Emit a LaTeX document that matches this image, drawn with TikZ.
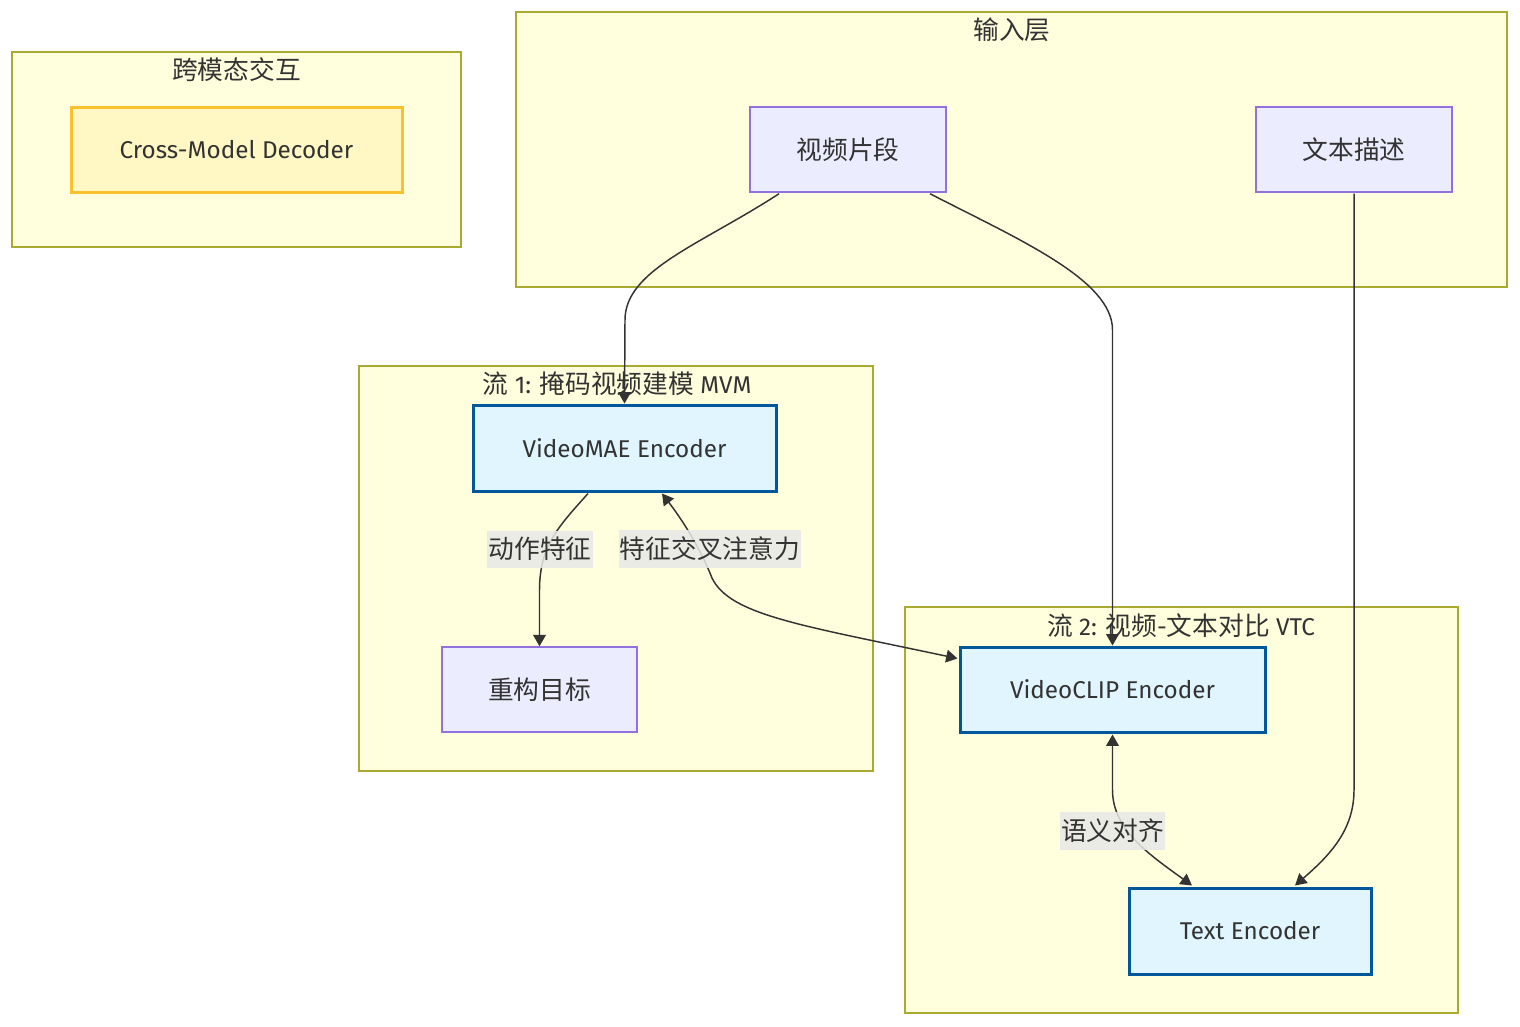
\documentclass[tikz,border=0pt]{standalone}
\usepackage{fontspec}
\setmainfont{Fira Sans}
\newfontfamily\cjk[Scale=1.06]{Noto Sans CJK SC}
\usetikzlibrary{arrows.meta,calc}
\definecolor{txt}{HTML}{333333}
\definecolor{clfill}{HTML}{FFFFDE}
\definecolor{cldraw}{HTML}{AAAA33}
\definecolor{dfill}{HTML}{ECECFF}
\definecolor{ddraw}{HTML}{9370DB}
\definecolor{efill}{HTML}{E1F5FE}
\definecolor{edraw}{HTML}{01579B}
\definecolor{yfill}{HTML}{FFF7C4}
\definecolor{ydraw}{HTML}{FBC02D}
\definecolor{lblbg}{HTML}{E8E8E8}
\tikzset{
  every node/.style={font=\fontsize{18.2}{22}\selectfont, text=txt},
  cluster/.style={draw=cldraw, fill=clfill, line width=1.1pt, inner sep=0pt},
  cltitle/.style={inner sep=0pt, anchor=center},
  plainbox/.style={draw=ddraw, fill=dfill, line width=1.1pt, minimum width=147pt, minimum height=63.75pt, inner sep=0pt},
  encbox/.style={draw=edraw, fill=efill, line width=2.25pt, minimum height=63.75pt, inner sep=0pt},
  decbox/.style={draw=ydraw, fill=yfill, line width=2.25pt, minimum height=63.75pt, inner sep=0pt},
  conn/.style={draw=txt, line width=1.1pt, -{Triangle[length=8.5pt,width=9.5pt]}},
  biconn/.style={draw=txt, line width=1.1pt, {Triangle[length=8.5pt,width=9.5pt]}-{Triangle[length=8.5pt,width=9.5pt]}},
  elabel/.style={fill=lblbg, fill opacity=0.85, text opacity=1, inner xsep=1pt, inner ysep=5pt}
}
\begin{document}
\begin{tikzpicture}[x=0.75pt,y=-0.75pt]
\useasboundingbox (0,0) rectangle (1520,1026);
\fill[white] (0,0) rectangle (1520,1026);
% clusters
\node[cluster, minimum width=336.75pt, minimum height=146.25pt] (c0) at (236.5,149.5) {};
\node[cltitle] (c0t) at (236.5,70) {\cjk 跨模态交互};
\node[cluster, minimum width=743.25pt, minimum height=206.25pt] (c1) at (1011.5,149.5) {};
\node[cltitle] (c1t) at (1012,30) {\cjk 输入层};
\node[cluster, minimum width=385.5pt, minimum height=303.75pt] (c2) at (616,568.5) {};
\node[cltitle] (c2t) at (617,384) {{\cjk 流} 1: {\cjk 掩码视频建模} MVM};
\node[cluster, minimum width=414.75pt, minimum height=304.5pt] (c3) at (1181.5,810) {};
\node[cltitle] (c3t) at (1181,626) {{\cjk 流} 2: {\cjk 视频}-{\cjk 文本对比} VTC};
% nodes
\node[decbox, minimum width=248.25pt] (dec) at (236.5,149.5) {Cross-Model Decoder};
\node[plainbox] (vid) at (848,149.5) {\cjk 视频片段};
\node[plainbox] (txtd) at (1354,149.5) {\cjk 文本描述};
\node[encbox, minimum width=227.25pt, minimum height=64.5pt] (mae) at (624.5,448) {VideoMAE Encoder};
\node[plainbox, minimum width=146.25pt] (rec) at (539.5,689.5) {\cjk 重构目标};
\node[encbox, minimum width=228.75pt] (clip) at (1112.5,689.5) {VideoCLIP Encoder};
\node[encbox, minimum width=181.5pt, minimum height=64.5pt] (tenc) at (1250,931) {Text Encoder};
% edges
\draw[conn] ($(vid.south)+(-69,1)$) .. controls (700,245) and (625,270) .. (625,320) -- (mae.north);
\draw[conn] ($(vid.south)+(82,1)$) .. controls (1020,240) and (1112.5,280) .. (1112.5,330) -- (clip.north);
\draw[conn] ($(txtd.south)+(0,1)$) -- (1354,790) .. controls (1354,830) and (1330,855) .. ($(tenc.north)+(45,-1)$);
\draw[conn] ($(mae.south)+(-36.5,1)$) .. controls (560,525) and (539.5,545) .. (539.5,590) -- (rec.north);
\node[elabel] (l1) at (540,549) {\cjk 动作特征};
\draw[biconn] ($(mae.south)+(37.5,1)$) .. controls (690,530) and (705,560) .. (712,578) .. controls (730,615) and (800,625) .. ($(clip.north west)+(-1,13)$);
\node[elabel] (l2) at (710,549) {\cjk 特征交叉注意力};
\draw[biconn] ($(clip.south)+(0,1)$) -- (1112.5,790) .. controls (1112.5,830) and (1150,855) .. ($(tenc.north)+(-58,-1)$);
\node[elabel] (l3) at (1112.5,831) {\cjk 语义对齐};
\end{tikzpicture}
\end{document}
